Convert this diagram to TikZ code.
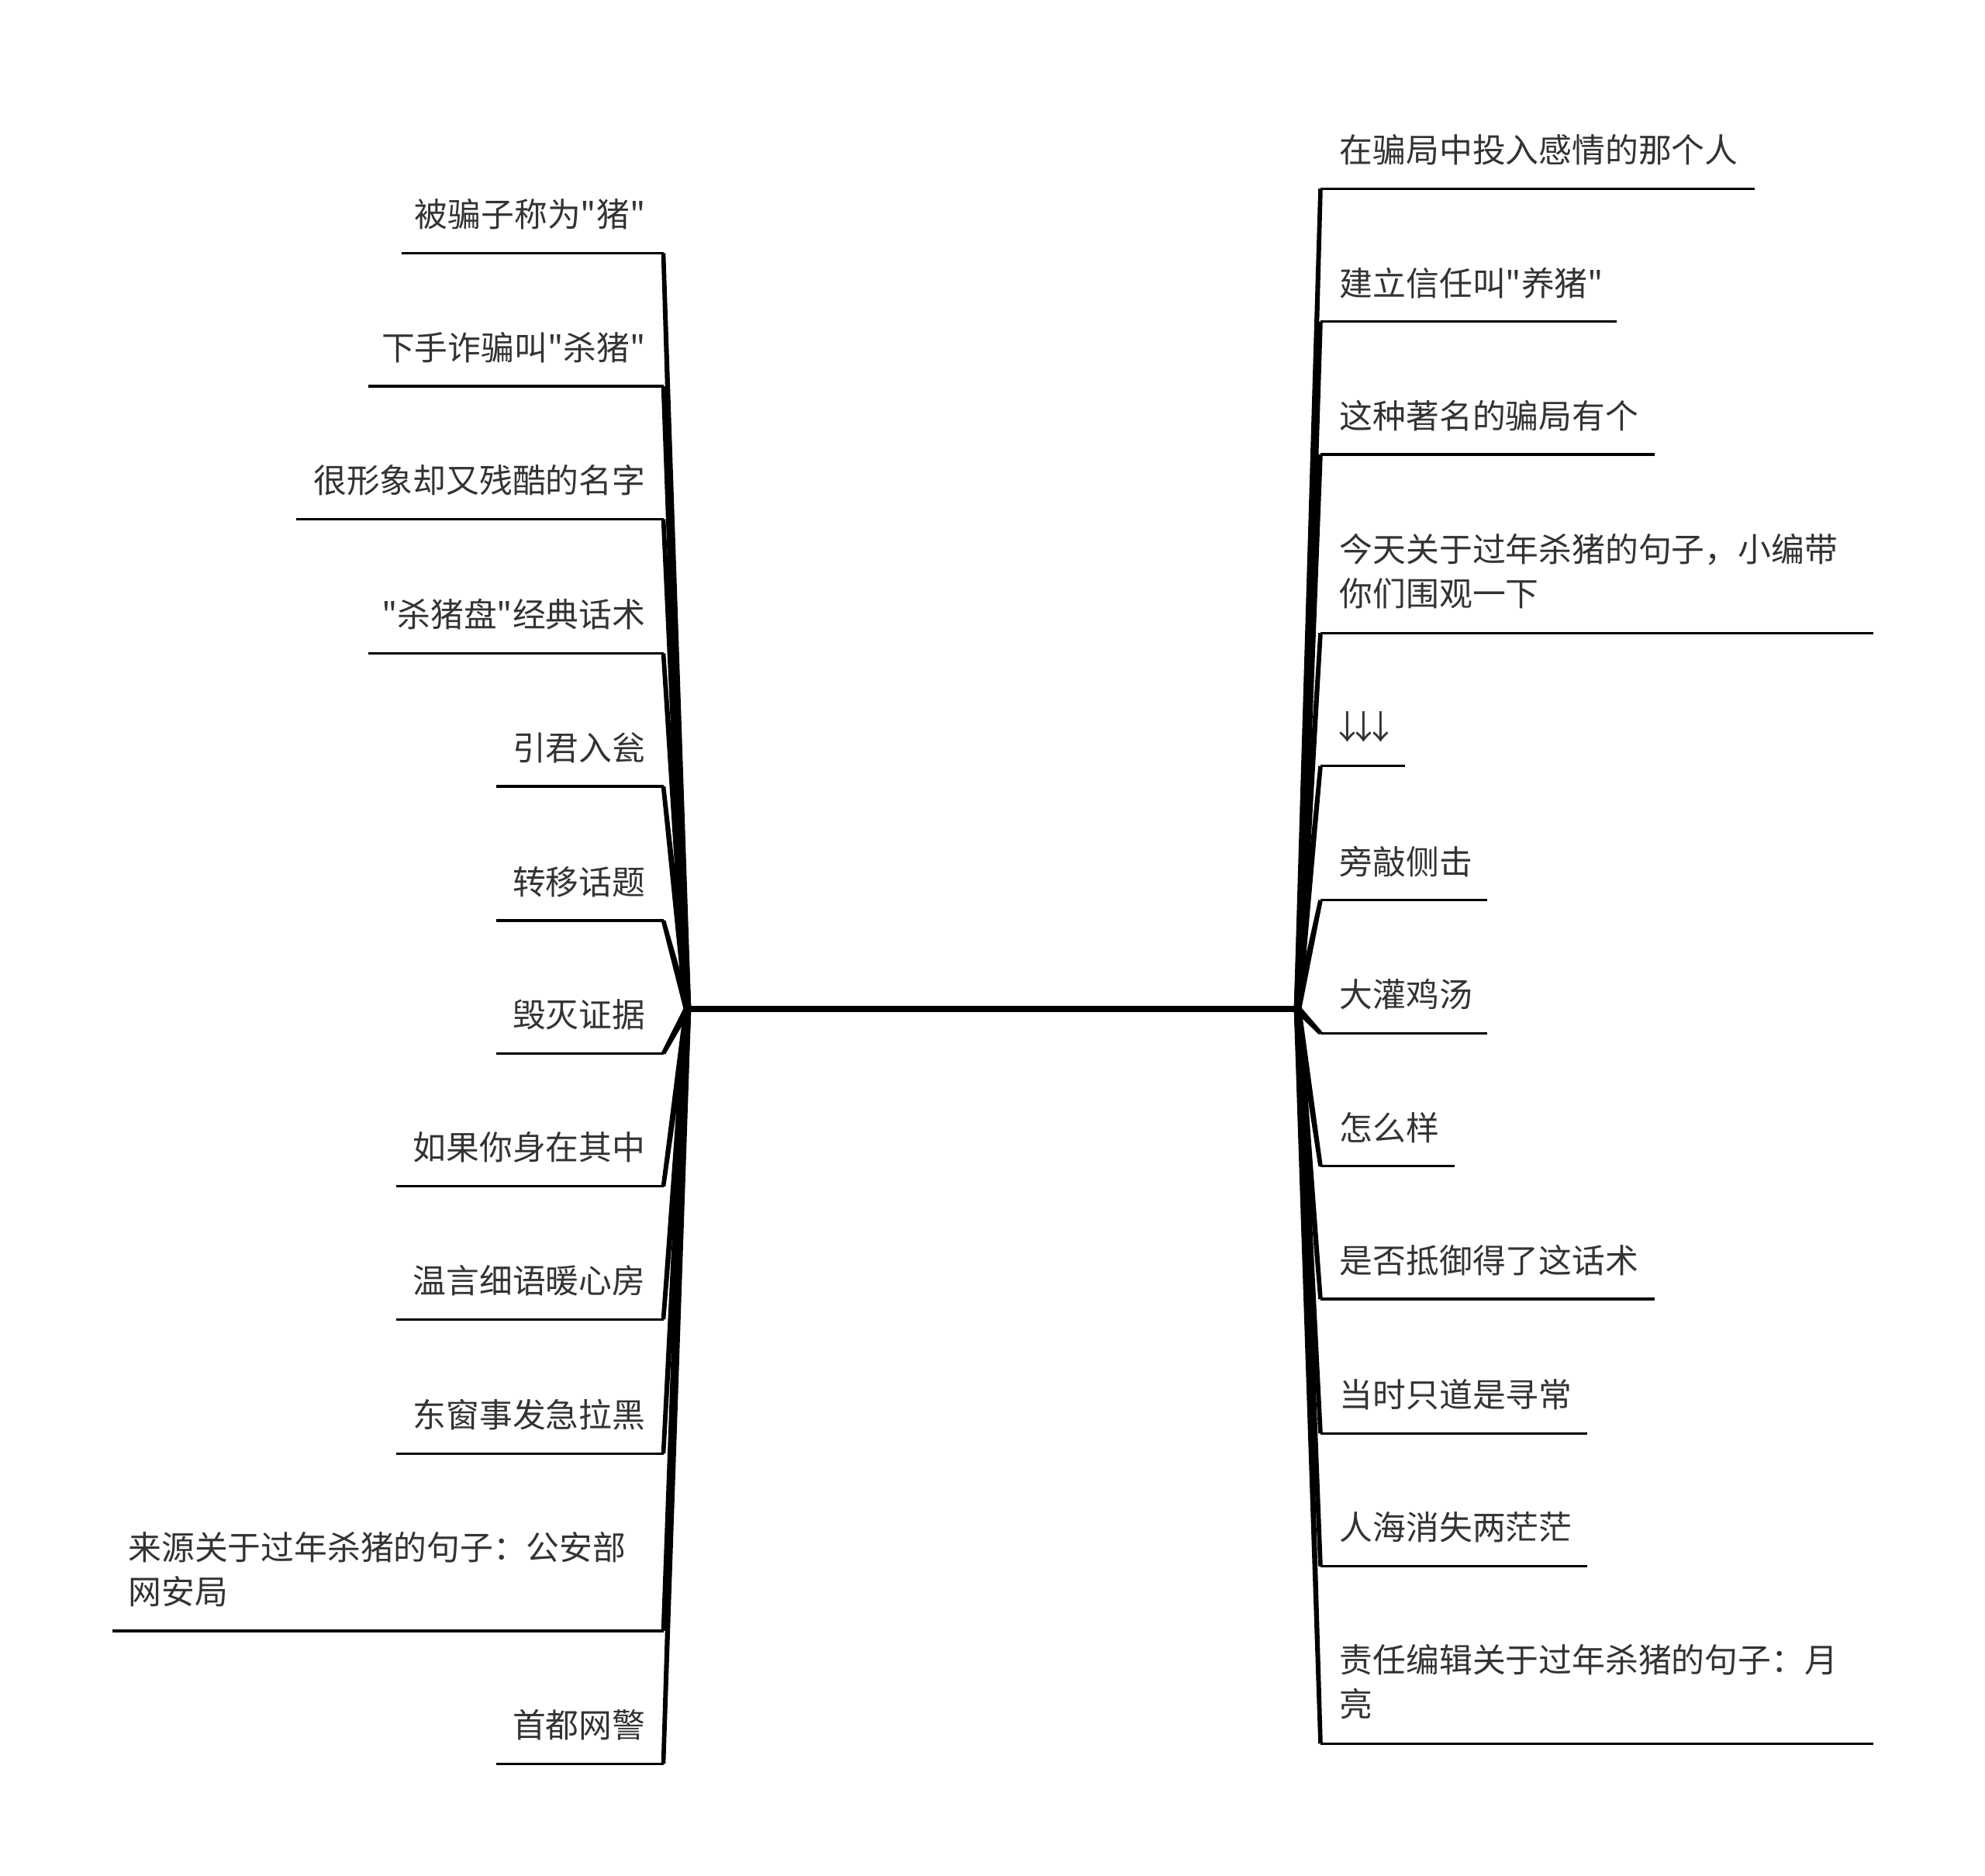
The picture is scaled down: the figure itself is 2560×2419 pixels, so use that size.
\documentclass[tikz,border=0pt]{standalone}
\usepackage{fontspec}
\newfontfamily\cjk{Noto Sans CJK SC}[Ligatures=TeXOff]
\usetikzlibrary{calc}
\definecolor{txt}{HTML}{333333}
\tikzset{
  lbl/.style={font=\cjk\fontsize{21.4pt}{28.5pt}\selectfont, text=txt, inner sep=0pt, align=left},
  uline/.style={line width=1.65pt, black},
  trunk/.style={line width=4pt, black},
}
\newcommand\mytaper[2]{\fill[black] ($(#1)!1.4pt!90:(#2)$) -- ($(#2)!2.4pt!-90:(#1)$) -- ($(#2)!2.4pt!90:(#1)$) -- ($(#1)!1.4pt!-90:(#2)$) -- cycle;}
\begin{document}
\begin{tikzpicture}[x=0.5pt,y=-0.5pt]
\useasboundingbox (0,0) rectangle (2560,2419);
\coordinate (cl) at (886.5,1301);
\coordinate (cr) at (1673.5,1301);
% left branches
\foreach \i/\y/\xl/\t in {
  1/326.5/517.6/被骗子称为"猪",
  2/498/475.1/下手诈骗叫"杀猪",
  3/669.4/382/很形象却又残酷的名字,
  4/842.5/475.1/"杀猪盘"经典话术,
  5/1013.9/640/引君入瓮,
  6/1187/640/转移话题,
  7/1358.4/640/毁灭证据,
  8/1529.8/511/如果你身在其中,
  9/1701.2/511/温言细语暖心房,
  10/1874.3/511/东窗事发急拉黑,
  12/2274.3/640/首都网警}{
  \coordinate (L\i) at (855.5,\y);
  \coordinate (Lx\i) at (\xl,\y);
  \node[lbl, anchor=east] (tl\i) at (832.7,\y-50) {\t};
  \mytaper{L\i}{cl}
  \draw[uline] (Lx\i) -- (L\i);
}
\coordinate (L11) at (855.5,2102.9);
\coordinate (Lx11) at (145.3,2102.9);
\node[lbl, anchor=west] (tl11) at (165,2023.5) {来源关于过年杀猪的句子：公安部\\网安局};
\mytaper{L11}{cl}
\draw[uline] (Lx11) -- (L11);
% right branches
\foreach \i/\y/\xr/\t in {
  1/243.3/2262.9/在骗局中投入感情的那个人,
  2/414.7/2085/建立信任叫"养猪",
  3/586.1/2133.9/这种著名的骗局有个,
  5/987.8/1812.3/\kern-0.27em↓\kern-0.5em↓\kern-0.5em↓,
  6/1160.8/1918.4/旁敲侧击,
  7/1332.2/1918.4/大灌鸡汤,
  8/1503.7/1876/怎么样,
  9/1675.1/2133.9/是否抵御得了这话术,
  10/1848.2/2047.4/当时只道是寻常,
  11/2019.6/2047.4/人海消失两茫茫}{
  \coordinate (R\i) at (1703,\y);
  \coordinate (Rx\i) at (\xr,\y);
  \node[lbl, anchor=west] (tr\i) at (1727.4,\y-50) {\t};
  \mytaper{R\i}{cr}
  \draw[uline] (R\i) -- (Rx\i);
}
\coordinate (R4) at (1703,816.3);
\coordinate (Rx4) at (2416.3,816.3);
\node[lbl, anchor=west] (tr4) at (1727.4,737) {今天关于过年杀猪的句子，小编带\\你们围观一下};
\mytaper{R4}{cr}
\draw[uline] (R4) -- (Rx4);
\coordinate (R12) at (1703,2248.2);
\coordinate (Rx12) at (2416.3,2248.2);
\node[lbl, anchor=west] (tr12) at (1727.4,2168.5) {责任编辑关于过年杀猪的句子：月\\亮};
\mytaper{R12}{cr}
\draw[uline] (R12) -- (Rx12);
\draw[trunk] (cl) -- (cr);
\end{tikzpicture}
\end{document}
